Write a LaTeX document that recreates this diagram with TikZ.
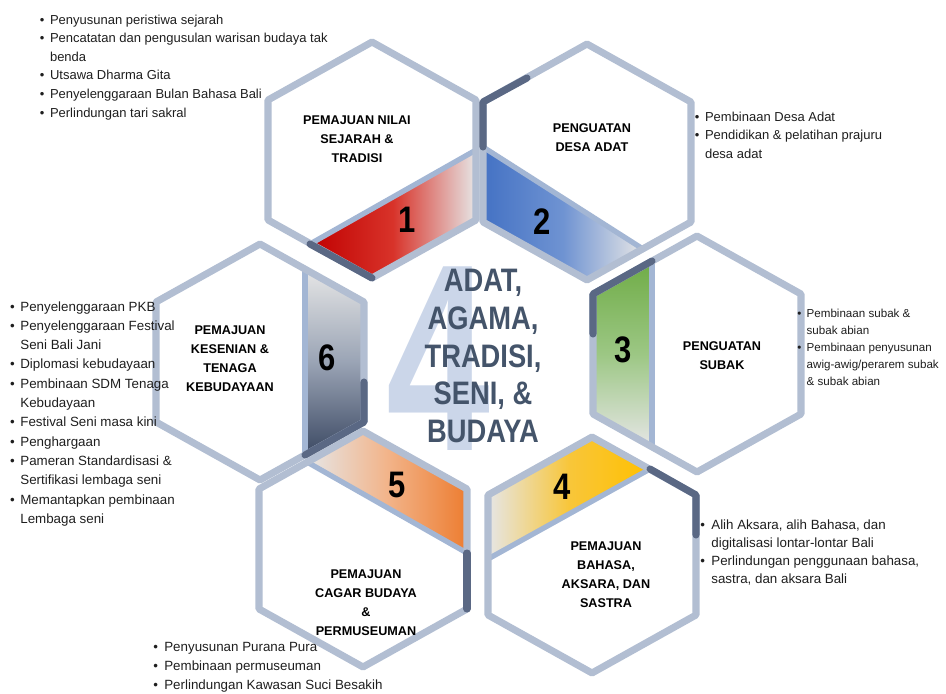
\documentclass[tikz,border=0pt]{standalone}
\usepackage{fontspec}
\setmainfont{Liberation Sans}
\newfontfamily\narrowsans[FakeStretch=0.84]{Liberation Sans}
\newfontfamily\slimsans[FakeStretch=0.7]{Liberation Sans}
\definecolor{rim}{HTML}{B2BED2}
\definecolor{rimdark}{HTML}{5A6884}
\definecolor{bandline}{HTML}{A3B6D4}
\definecolor{bandgray}{HTML}{E6E6E6}
\definecolor{slate}{HTML}{44546A}
\definecolor{ghost}{HTML}{CBD6E9}
\definecolor{listtext}{HTML}{1E1E1E}
% band colours
\definecolor{redband}{HTML}{C00000}
\definecolor{redmid}{HTML}{D8332A}
\definecolor{blueband}{HTML}{4472C4}
\definecolor{bluemid}{HTML}{6F93D2}
\definecolor{greenband}{HTML}{6FAC46}
\definecolor{greenmid}{HTML}{9CC784}
\definecolor{yellowband}{HTML}{FFC000}
\definecolor{yellowmid}{HTML}{F8C63A}
\definecolor{orangeband}{HTML}{ED7D31}
\definecolor{orangemid}{HTML}{F2B48A}
\definecolor{navyband}{HTML}{3C4963}
\definecolor{navymid}{HTML}{9AA4B5}
\tikzset{
  hexrim/.style={draw=rim, line width=4pt, line join=round},
  hexdark/.style={draw=rimdark, line width=4pt, line cap=round, line join=round},
  bandrim/.style={draw=bandline, line width=3pt},
  hextitle/.style={align=center, inner sep=0pt, font=\fontsize{7.2}{10.8}\selectfont\bfseries},
  hexnum/.style={inner sep=0pt, font=\narrowsans\bfseries\fontsize{21}{21}\selectfont},
  itemlist/.style={anchor=base west, inner sep=0pt, text=listtext, font=\fontsize{7.4}{10.6}\selectfont}
}
\newcommand{\hexagon}{(0,-118) -- (104,-60) -- (104,60) -- (0,118) -- (-104,60) -- (-104,-60) -- cycle}

\begin{document}
\begin{tikzpicture}[x=0.02cm, y=-0.02cm]
  \useasboundingbox (0,0) rectangle (946,693);

  % Hexagon 1: sejarah & tradisi
  \begin{scope}[shift={(372,160)}]
    \fill[white] \hexagon;
    \fill[left color=redband, right color=bandgray, middle color=redmid]
      (-62,84) -- (0,118) -- (104,60) -- (104,-10) -- cycle;
    \draw[bandrim] (-62,84) -- (104,-10);
    \draw[hexrim] \hexagon;
    \draw[hexdark] (-62,84) -- (0,118);
    \node[hextitle] (title1) at (-15,-21) {PEMAJUAN NILAI\\SEJARAH \&\\TRADISI};
    \node[hexnum] (num1) at (35,60) {1};
  \end{scope}

  % Hexagon 2: desa adat
  \begin{scope}[shift={(587,162)}]
    \fill[white] \hexagon;
    \fill[left color=blueband, right color=bandgray, middle color=bluemid]
      (-104,-15) -- (56,87) -- (0,118) -- (-104,60) -- cycle;
    \draw[bandrim] (-104,-15) -- (56,87);
    \draw[hexrim] \hexagon;
    \draw[hexdark] (-104,-15) -- (-104,-60) -- (-60,-84);
    \node[hextitle] (title2) at (5,-24) {PENGUATAN\\DESA ADAT};
    \node[hexnum] (num2) at (-45,60) {2};
  \end{scope}

  % Hexagon 3: subak
  \begin{scope}[shift={(697,354)}]
    \fill[white] \hexagon;
    \fill[top color=greenband, bottom color=bandgray, middle color=greenmid]
      (-104,-60) -- (-45,-93) -- (-45,93) -- (-104,60) -- cycle;
    \draw[bandrim] (-45,-93) -- (-45,93);
    \draw[hexrim] \hexagon;
    \draw[hexdark] (-104,-20) -- (-104,-60) -- (-45,-93);
    \node[hextitle] (title3) at (25,2) {PENGUATAN\\SUBAK};
    \node[hexnum] (num3) at (-74,-4) {3};
  \end{scope}

  % Hexagon 4: bahasa, aksara, sastra
  \begin{scope}[shift={(592,555)}]
    \fill[white] \hexagon;
    \fill[left color=bandgray, right color=yellowband, middle color=yellowmid]
      (-104,-60) -- (0,-118) -- (58,-86) -- (-104,4) -- cycle;
    \draw[bandrim] (-104,4) -- (58,-86);
    \draw[hexrim] \hexagon;
    \draw[hexdark] (58,-86) -- (104,-60) -- (104,-20);
    \node[hextitle] (title4) at (14,20) {PEMAJUAN\\BAHASA,\\AKSARA, DAN\\SASTRA};
    \node[hexnum] (num4) at (-30,-68) {4};
  \end{scope}

  % Hexagon 5: cagar budaya
  \begin{scope}[shift={(363,549)}]
    \fill[white] \hexagon;
    \fill[left color=bandgray, right color=orangeband, middle color=orangemid]
      (-56,-87) -- (0,-118) -- (104,-60) -- (104,4) -- cycle;
    \draw[bandrim] (-56,-87) -- (104,4);
    \draw[hexrim] \hexagon;
    \draw[hexdark] (104,4) -- (104,60);
    \node[hextitle] (title5) at (3,54) {PEMAJUAN\\CAGAR BUDAYA\\\&\\PERMUSEUMAN};
    \node[hexnum] (num5) at (34,-64) {5};
  \end{scope}

  % Hexagon 6: kesenian
  \begin{scope}[shift={(260,362)}]
    \fill[white] \hexagon;
    \fill[top color=bandgray, bottom color=navyband, middle color=navymid]
      (45,-93) -- (104,-60) -- (104,60) -- (45,93) -- cycle;
    \draw[bandrim] (45,-93) -- (45,93);
    \draw[hexrim] \hexagon;
    \draw[hexdark] (104,20) -- (104,60) -- (45,93);
    \node[hextitle] (title6) at (-30,-3) {PEMAJUAN\\KESENIAN \&\\TENAGA\\KEBUDAYAAN};
    \node[hexnum] (num6) at (67,-4) {6};
  \end{scope}

  % Centre
  \node[anchor=base west, inner sep=0pt, text=ghost,
        font=\slimsans\bfseries\fontsize{152}{152}\selectfont] (ghost4) at (386,450) {4};
  \node[align=center, inner sep=0pt, text=slate,
        font=\narrowsans\bfseries\fontsize{18.5}{21.5}\selectfont] (core) at (483,356)
    {ADAT,\\AGAMA,\\TRADISI,\\SENI, \&\\BUDAYA};

  % Lists of programmes
  \node[itemlist] (list1) at (39.5,24) {\begin{tabular}[t]{@{}l@{\hspace{3.2pt}}l@{}}
    • & Penyusunan peristiwa sejarah\\
    • & Pencatatan dan pengusulan warisan budaya tak\\
      & benda\\
    • & Utsawa Dharma Gita\\
    • & Penyelenggaraan Bulan Bahasa Bali\\
    • & Perlindungan tari sakral
  \end{tabular}};
  \node[itemlist] (list2) at (694.5,121) {\begin{tabular}[t]{@{}l@{\hspace{3.2pt}}l@{}}
    • & Pembinaan Desa Adat\\
    • & Pendidikan \& pelatihan prajuru\\
      & desa adat
  \end{tabular}};
  \node[itemlist, font=\fontsize{6.6}{9.8}\selectfont] (list3) at (797,317) {\begin{tabular}[t]{@{}l@{\hspace{3pt}}l@{}}
    • & Pembinaan subak \&\\
      & subak abian\\
    • & Pembinaan penyusunan\\
      & awig-awig/perarem subak\\
      & \& subak abian
  \end{tabular}};
  \node[itemlist, font=\fontsize{7.6}{10.4}\selectfont] (list4) at (700,529) {\begin{tabular}[t]{@{}l@{\hspace{3.6pt}}l@{}}
    • & Alih Aksara, alih Bahasa, dan\\
      & digitalisasi lontar-lontar Bali\\
    • & Perlindungan penggunaan bahasa,\\
      & sastra, dan aksara Bali
  \end{tabular}};
  \node[itemlist, font=\fontsize{7.6}{11}\selectfont] (list5) at (153,651) {\begin{tabular}[t]{@{}l@{\hspace{3.6pt}}l@{}}
    • & Penyusunan Purana Pura\\
    • & Pembinaan permuseuman\\
    • & Perlindungan Kawasan Suci Besakih
  \end{tabular}};
  \node[itemlist, font=\fontsize{7.6}{11}\selectfont] (list6) at (9.7,311) {\begin{tabular}[t]{@{}l@{\hspace{3.2pt}}l@{}}
    • & Penyelenggaraan PKB\\
    • & Penyelenggaraan Festival\\
      & Seni Bali Jani\\
    • & Diplomasi kebudayaan\\
    • & Pembinaan SDM Tenaga\\
      & Kebudayaan\\
    • & Festival Seni masa kini\\
    • & Penghargaan\\
    • & Pameran Standardisasi \&\\
      & Sertifikasi lembaga seni\\
    • & Memantapkan pembinaan\\
      & Lembaga seni
  \end{tabular}};
\end{tikzpicture}
\end{document}
